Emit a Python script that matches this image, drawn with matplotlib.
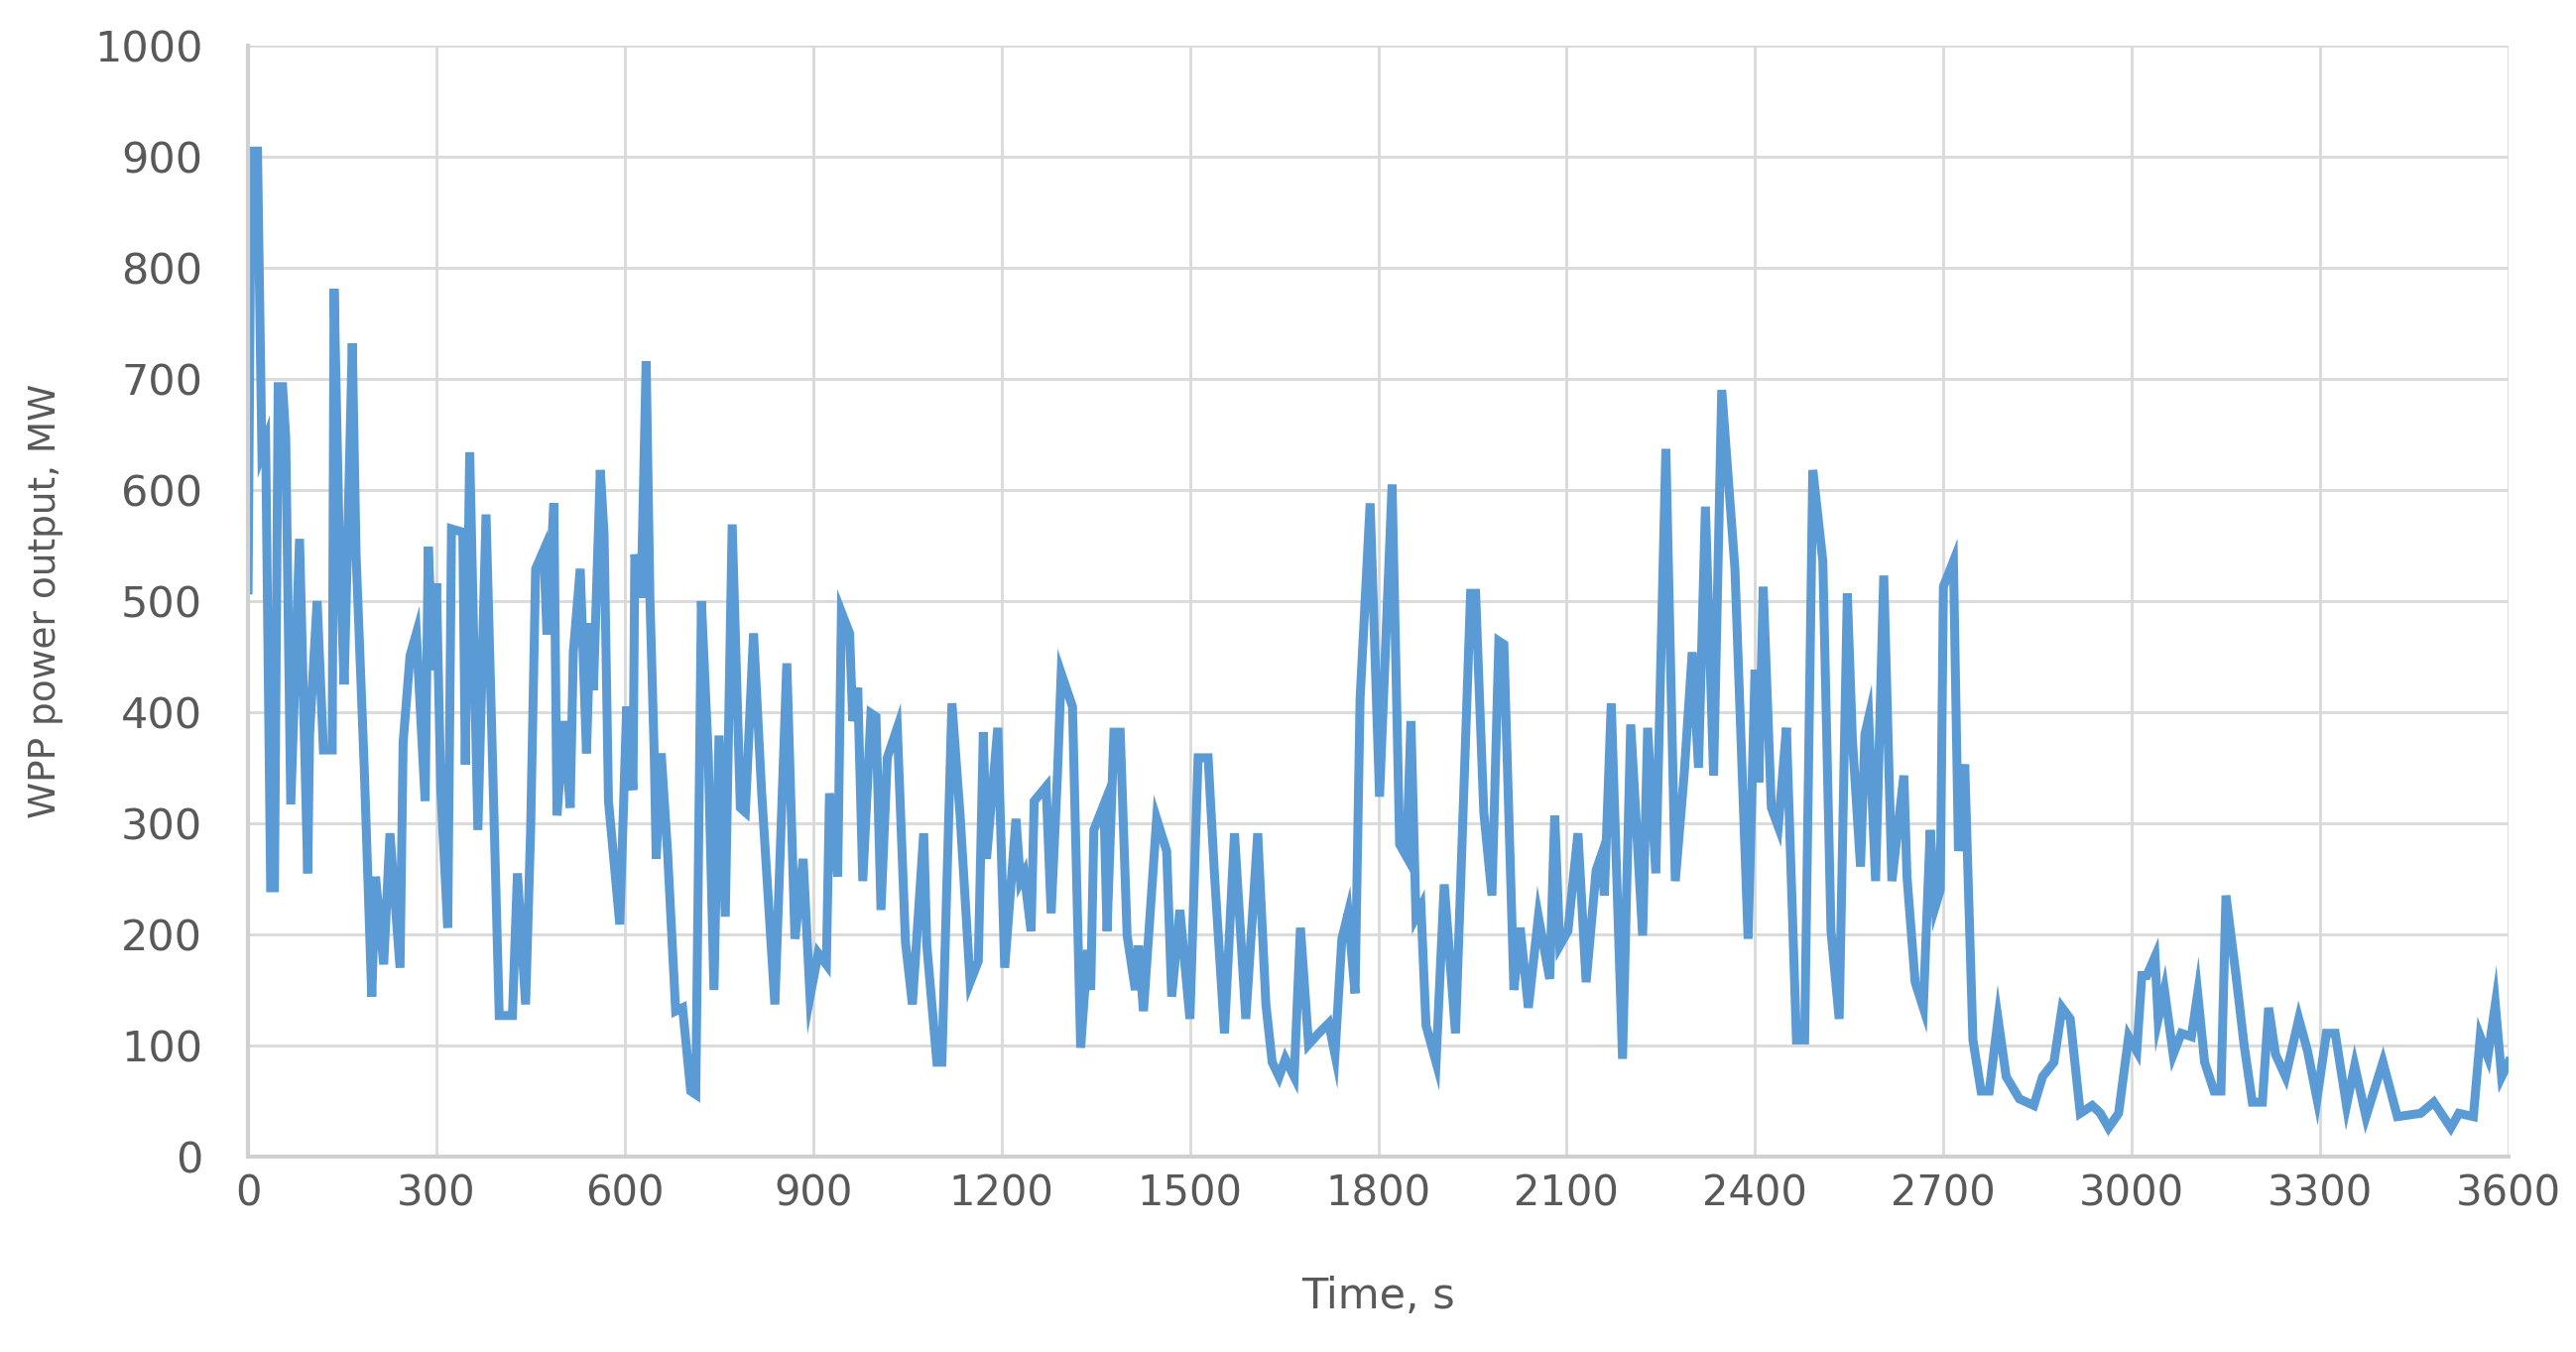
import numpy as np
import matplotlib
matplotlib.use("Agg")
import matplotlib.pyplot as plt

# time (s) and WPP power output (MW)
time_s = [0, 5, 15, 22, 28, 36, 42, 48, 55, 60, 68, 82, 95, 98, 110, 120, 134, 137, 145, 153,
          158, 166, 172, 185, 197, 203, 216, 226, 242, 247, 258, 268, 282, 287, 295, 300, 307, 318,
          324, 342, 346, 353, 366, 379, 392, 400, 421, 429, 442, 450, 458, 471, 476, 487, 492,
          503, 513, 518, 529, 539, 545, 550, 561, 567, 574, 592, 603, 613, 616, 626, 634, 640,
          647, 650, 658, 668, 681, 692, 705, 713, 722, 733, 742, 750, 760, 771, 784, 792, 805,
          818, 839, 858, 871, 884, 895, 908, 921, 926, 939, 945, 958, 963, 971, 979, 992, 1000,
          1008, 1018, 1034, 1047, 1058, 1076, 1081, 1097, 1105, 1121, 1134, 1150, 1163, 1171,
          1176, 1194, 1205, 1223, 1230, 1236, 1247, 1252, 1271, 1279, 1289, 1295, 1313, 1326,
          1337, 1342, 1347, 1363, 1368, 1379, 1389, 1400, 1413, 1418, 1426, 1447, 1463, 1471,
          1484, 1500, 1513, 1529, 1539, 1555, 1571, 1589, 1608, 1621, 1631, 1642, 1652, 1666,
          1676, 1689, 1705, 1721, 1731, 1742, 1752, 1763, 1771, 1787, 1802, 1822, 1834, 1845,
          1852, 1860, 1868, 1876, 1892, 1905, 1923, 1947, 1955, 1968, 1981, 1992, 2000, 2016,
          2026, 2039, 2055, 2073, 2081, 2089, 2102, 2118, 2131, 2147, 2155, 2160, 2171, 2189,
          2202, 2221, 2229, 2242, 2258, 2273, 2287, 2300, 2310, 2321, 2334, 2347, 2368, 2389,
          2400, 2406, 2413, 2426, 2437, 2442, 2450, 2466, 2479, 2492, 2508, 2521, 2534, 2547,
          2555, 2568, 2575, 2581, 2592, 2605, 2618, 2637, 2642, 2655, 2668, 2679, 2687, 2695,
          2700, 2716, 2724, 2734, 2747, 2760, 2773, 2787, 2800, 2821, 2844, 2858, 2876, 2889,
          2902, 2918, 2937, 2950, 2963, 2979, 2995, 3008, 3016, 3024, 3037, 3042, 3052, 3066,
          3079, 3095, 3105, 3116, 3131, 3142, 3150, 3166, 3179, 3192, 3208, 3218, 3229, 3245,
          3266, 3280, 3295, 3310, 3324, 3342, 3355, 3373, 3400, 3423, 3460, 3481, 3508, 3521,
          3544, 3555, 3567, 3579, 3589, 3600]
power_mw = [510, 905, 905, 634, 644, 242, 242, 693, 693, 647, 317, 556, 255, 380, 500, 366, 366, 781, 560, 425,
            540, 732, 542, 350, 144, 252, 173, 291, 170, 373, 451, 471, 320, 549, 438, 516, 330, 206,
            565, 562, 353, 634, 294, 578, 300, 127, 127, 255, 137, 294, 529, 546, 470, 588, 307,
            392, 314, 454, 529, 363, 480, 420, 618, 560, 320, 209, 405, 330, 542, 503, 716, 503,
            359, 268, 363, 275, 131, 134, 59, 56, 500, 360, 150, 379, 216, 569, 314, 310, 471,
            327, 137, 444, 196, 268, 144, 183, 173, 327, 252, 490, 471, 392, 422, 248, 399, 396,
            222, 359, 386, 193, 137, 291, 190, 85, 85, 408, 307, 157, 176, 382,
            268, 386, 170, 304, 248, 255, 203, 320, 333, 219, 343, 435, 405, 98,
            186, 150, 294, 317, 203, 382, 382, 199, 150, 190, 131, 304, 275, 144,
            222, 124, 359, 359, 255, 111, 291, 124, 291, 137, 85, 72, 88, 72,
            206, 101, 111, 120, 92, 196, 219, 147, 412, 588, 324, 605, 281, 270,
            392, 216, 225, 118, 85, 245, 111, 507, 507, 310, 235, 464, 461, 150,
            206, 134, 216, 160, 307, 190, 203, 291, 157, 258, 271, 235, 408, 88,
            389, 199, 386, 255, 637, 248, 343, 454, 350, 585, 343, 690, 529, 196,
            438, 337, 513, 314, 297, 330, 386, 105, 105, 618, 536, 203, 124, 507,
            376, 261, 380, 395, 248, 523, 248, 343, 252, 157, 134, 294, 225, 240,
            513, 536, 275, 353, 105, 59, 59, 124, 72, 52, 46, 72, 85, 134,
            124, 39, 46, 39, 26, 39, 108, 95, 163, 163, 180, 124, 150, 92,
            111, 108, 147, 85, 59, 59, 235, 163, 100, 49, 49, 134, 92, 72,
            124, 95, 52, 111, 111, 46, 82, 36, 85, 36, 39, 49, 26, 39,
            36, 108, 90, 137, 72, 85]

x_ticks = np.arange(0, 3601, 300)
y_ticks = np.arange(0, 1001, 100)

fig = plt.figure(figsize=(25.97, 13.63), dpi=100)
ax = fig.add_axes([0.0963, 0.1445, 0.8775, 0.8218])

ax.plot(time_s, power_mw, color='#5B9BD5', lw=6.5, solid_joinstyle='miter')

ax.set_xlim(0, 3600)
ax.set_ylim(0, 1000)
ax.set_xticks(x_ticks)
ax.set_yticks(y_ticks)
ax.grid(True, color='#D9D9D9', lw=2)
ax.set_axisbelow(True)
for s in ['top', 'right']:
    ax.spines[s].set_visible(False)
for s in ['left', 'bottom']:
    ax.spines[s].set_color('#D0D0D0')
    ax.spines[s].set_linewidth(3)
ax.tick_params(axis='y', length=0, labelsize=31, colors='#595959', pad=33)
ax.tick_params(axis='x', length=0, labelsize=30, colors='#595959', pad=12)

ax.set_xlabel('Time, s', fontsize=31, color='#595959', labelpad=44)
ax.set_ylabel('WPP power output, MW', fontsize=27, color='#595959', labelpad=22)

fig.savefig('out.png', dpi=100)
plt.close()
